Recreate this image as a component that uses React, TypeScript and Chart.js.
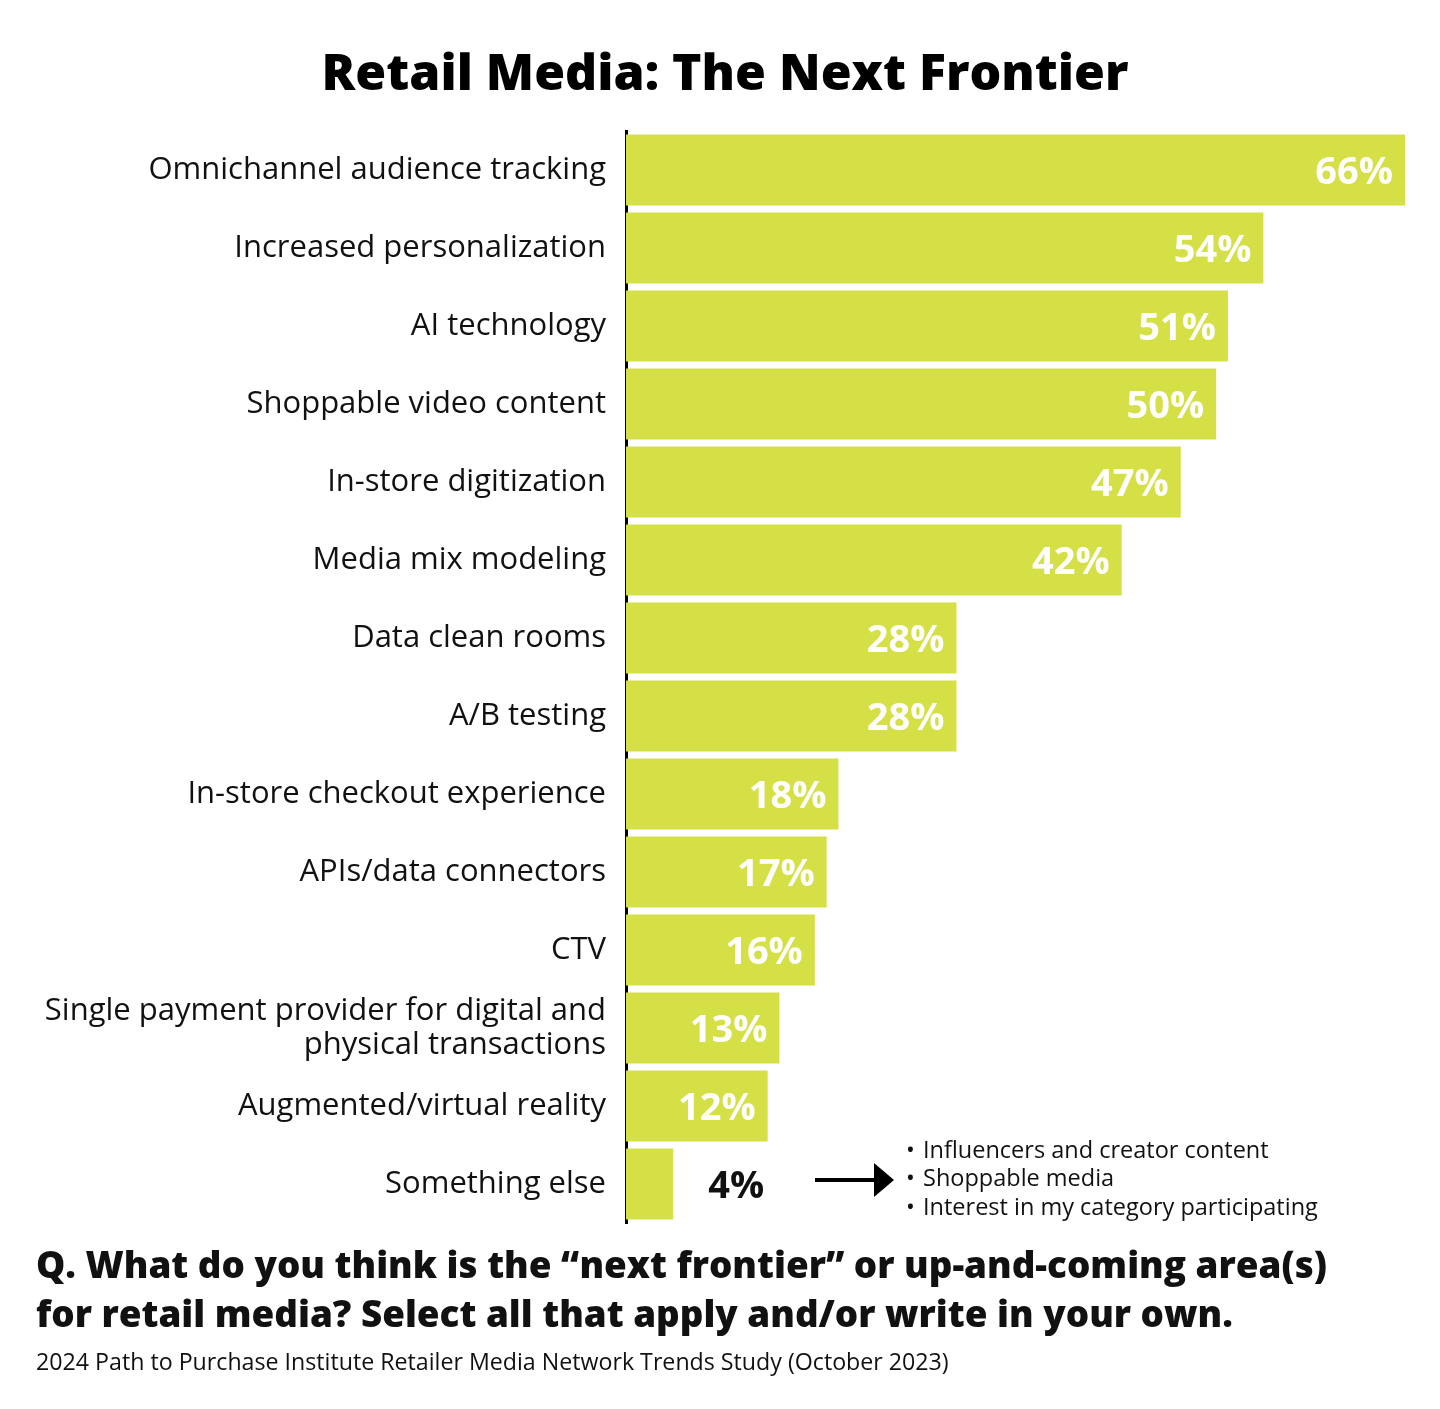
import React, { useEffect, useRef } from "react";
import { Chart, registerables } from "chart.js";

Chart.register(...registerables);

const TITLE = "Retail Media: The Next Frontier";
const categories: (string | string[])[] = [
  "Omnichannel audience tracking",
  "Increased personalization",
  "AI technology",
  "Shoppable video content",
  "In-store digitization",
  "Media mix modeling",
  "Data clean rooms",
  "A/B testing",
  "In-store checkout experience",
  "APIs/data connectors",
  "CTV",
  ["Single payment provider for digital and", "physical transactions"],
  "Augmented/virtual reality",
  "Something else",
];
const values = [66, 54, 51, 50, 47, 42, 28, 28, 18, 17, 16, 13, 12, 4];
const otherNotes = [
  "Influencers and creator content",
  "Shoppable media",
  "Interest in my category participating",
];
const questionLines = [
  "Q. What do you think is the \u201cnext frontier\u201d or up-and-coming area(s)",
  "for retail media? Select all that apply and/or write in your own.",
];
const sourceText =
  "2024 Path to Purchase Institute Retailer Media Network Trends Study (October 2023)";

const BAR_COLOR = "#D4E045";
const FONT = "'Open Sans', sans-serif";

export default function App() {
  const ref = useRef<HTMLCanvasElement | null>(null);
  useEffect(() => {
    if (!ref.current) return;
    const textPlugin = {
      id: "texts",
      afterDraw(chart: any) {
        const ctx = chart.ctx;
        ctx.save();
        ctx.fillStyle = "#000";
        ctx.textAlign = "center";
        ctx.textBaseline = "middle";
        ctx.font = `800 50px ${FONT}`;
        ctx.fillText(TITLE, 725, 76);
        const meta = chart.getDatasetMeta(0);
        meta.data.forEach((bar: any, i: number) => {
          const v = values[i];
          ctx.font = `bold 38px ${FONT}`;
          ctx.textBaseline = "middle";
          if (v >= 10) {
            ctx.fillStyle = "#fff";
            ctx.textAlign = "right";
            ctx.fillText(v + "%", bar.x - 12, bar.y + 3);
          } else {
            ctx.fillStyle = "#111";
            ctx.textAlign = "left";
            ctx.fillText(v + "%", bar.x + 35, bar.y + 3);
            const ay = bar.y - 4;
            ctx.strokeStyle = "#000";
            ctx.lineWidth = 4;
            ctx.beginPath();
            ctx.moveTo(815, ay);
            ctx.lineTo(878, ay);
            ctx.stroke();
            ctx.fillStyle = "#000";
            ctx.beginPath();
            ctx.moveTo(894, ay);
            ctx.lineTo(874, ay - 17);
            ctx.lineTo(874, ay + 17);
            ctx.closePath();
            ctx.fill();
            ctx.font = `23.5px ${FONT}`;
            ctx.fillStyle = "#111";
            otherNotes.forEach((t, k) => {
              const y = 1151 + k * 28.5;
              ctx.fillText("\u2022", 906, y);
              ctx.fillText(t, 923, y);
            });
          }
        });
        ctx.fillStyle = "#111";
        ctx.textAlign = "left";
        ctx.textBaseline = "middle";
        ctx.font = `800 36.8px ${FONT}`;
        questionLines.forEach((l, k) => ctx.fillText(l, 36, 1268 + k * 49));
        ctx.font = `23.2px ${FONT}`;
        ctx.fillText(sourceText, 36, 1363);
        ctx.restore();
      },
    };
    const chart = new Chart(ref.current, {
      type: "bar",
      data: {
        labels: categories,
        datasets: [
          {
            data: values,
            backgroundColor: BAR_COLOR,
            barPercentage: 0.91,
            categoryPercentage: 1,
          },
        ],
      },
      options: {
        indexAxis: "y",
        animation: false,
        responsive: false,
        maintainAspectRatio: false,
        layout: { padding: { top: 131, bottom: 1409 - 1223, left: 0, right: 35 } },
        plugins: {
          legend: { display: false },
          tooltip: { enabled: false },
          title: { display: false },
        },
        scales: {
          x: {
            min: 0,
            max: 66,
            display: false,
            grid: { display: false },
          },
          y: {
            grid: { display: false, drawTicks: false },
            border: { display: true, color: "#000", width: 3 },
            ticks: {
              color: "#111",
              font: { family: FONT, size: 31, lineHeight: 1.1 },
              padding: 20,
              crossAlign: "near",
            },
            afterFit(scale: any) {
              scale.width = 626;
            },
          },
        },
      },
      plugins: [textPlugin],
    });
    return () => chart.destroy();
  }, []);
  return (
    <div style={{ position: "absolute", left: 0, top: 0, width: 1440, height: 1409, background: "#fff" }}>
      <canvas ref={ref} width={1440} height={1409} style={{ width: 1440, height: 1409 }} />
    </div>
  );
}
